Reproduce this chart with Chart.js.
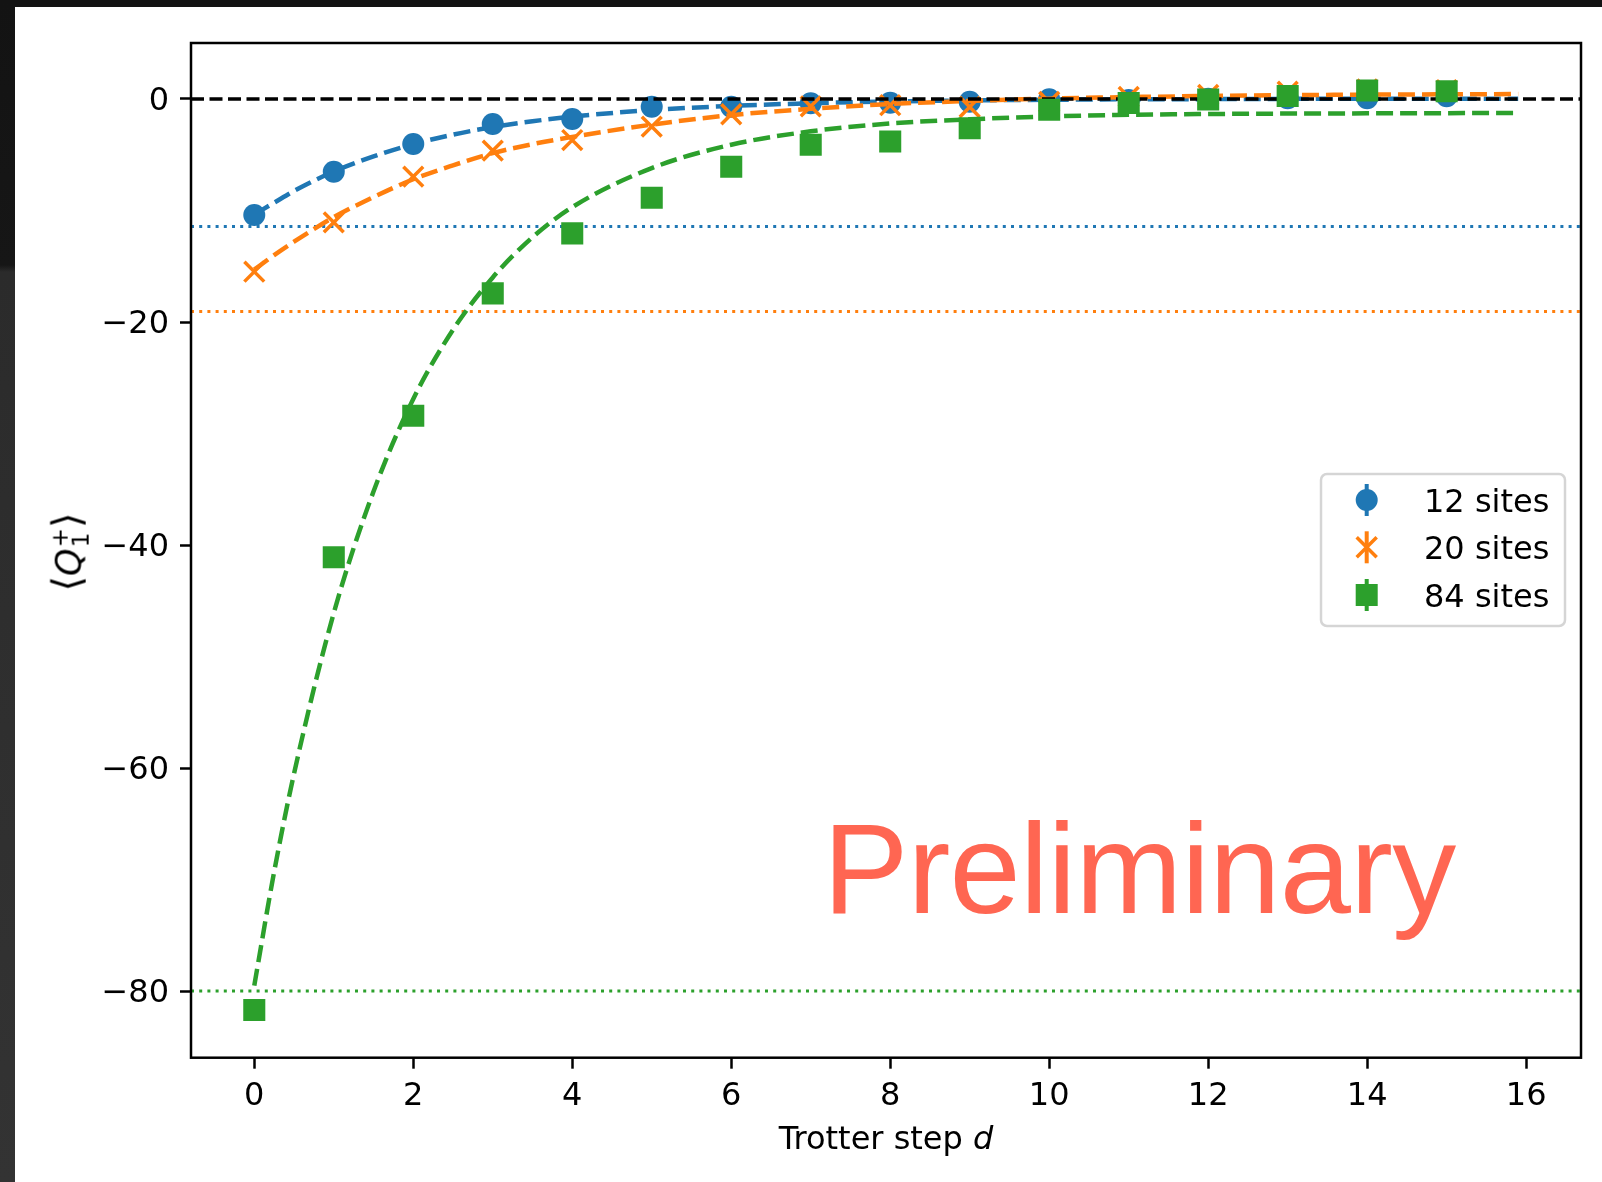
<!DOCTYPE html>
<html><head><meta charset="utf-8">
<script src="https://cdn.jsdelivr.net/npm/chart.js@4.4.1/dist/chart.umd.min.js"></script>
<style>
html,body{margin:0;padding:0;background:#fff;width:1602px;height:1182px;overflow:hidden;}
#wrap{position:relative;width:1602px;height:1182px;background:#fff;}
#c{position:absolute;left:0;top:0;}
.topbar{position:absolute;left:0;top:0;width:1602px;height:7px;background:#131313;}
.leftbar{position:absolute;left:0;top:0;width:15px;height:1182px;background:linear-gradient(#131313 0px,#161616 265px,#2b2b2b 272px,#333 1182px);}
.xlabel{position:absolute;left:886px;top:1122px;transform:translateX(-50%);font:32px/1 "DejaVu Sans";color:#000;white-space:nowrap;}
.ylabel{position:absolute;left:69px;top:552px;transform:translate(-50%,-50%) rotate(-90deg);font:35px/1 "DejaVu Sans";color:#000;white-space:nowrap;}
.ylabel .br{font-size:40px;}
.ylabel .ss{display:inline-flex;flex-direction:column;font-size:23px;line-height:0.9;vertical-align:middle;margin-left:1px;}
.prelim{position:absolute;left:823px;top:805px;font:128px/128px "Liberation Sans";letter-spacing:-0.7px;color:#ff6652;white-space:nowrap;}
</style></head>
<body><div id="wrap">
<canvas id="c" width="1602" height="1182"></canvas>
<div class="topbar"></div><div class="leftbar"></div>
<div class="xlabel">Trotter step <i>d</i></div>
<div class="ylabel"><span class="br">⟨</span><i>Q</i><span class="ss"><span>+</span><span>1</span></span><span class="br">⟩</span></div>
<div class="prelim">Preliminary</div>
</div>
<script>
// ---- data ----
const steps = [0,1,2,3,4,5,6,7,8,9,10,11,12,13,14,15];
const sites12 = [-10.4,-6.52,-4.04,-2.24,-1.79,-0.69,-0.69,-0.39,-0.33,-0.25,-0.03,-0.09,0.03,0.06,0.06,0.24];
const sites20 = [-15.49,-11.06,-6.97,-4.63,-3.68,-2.48,-1.37,-0.66,-0.56,-0.72,-0.27,0.18,0.36,0.65,0.85,0.8];
const sites84 = [-81.7,-41.1,-28.4,-17.43,-12.05,-8.85,-6.07,-4.1,-3.81,-2.63,-0.96,-0.36,-0.04,0.27,0.76,0.70];
const fitX   = [0,0.25,0.5,1,1.5,2,2.5,3,3.5,4,5,6,7,8,9,10,11,12,13,14,15,15.9];
const fit12  = [-10.35,-9.3,-8.25,-6.5,-5.15,-4.05,-3.2,-2.52,-2.0,-1.58,-0.99,-0.62,-0.38,-0.22,-0.13,-0.07,-0.03,-0.01,0.01,0.02,0.03,0.03];
const fit20  = [-15.3,-14.0,-12.8,-10.6,-8.8,-7.2,-5.95,-4.85,-4.05,-3.4,-2.3,-1.45,-0.88,-0.45,-0.18,0.03,0.17,0.27,0.34,0.39,0.42,0.44];
const fit84  = [-79.5,-69.3,-60.5,-46.1,-35.2,-26.9,-20.7,-16.0,-12.4,-9.7,-6.2,-4.1,-2.9,-2.2,-1.82,-1.57,-1.42,-1.35,-1.31,-1.29,-1.27,-1.26];
const limits = [-11.43,-19.05,-80.0];   // dotted reference levels (12, 20, 84 sites)
const zeroLevel = 0;
const seriesNames = ['12 sites','20 sites','84 sites'];
const xTickVals = [0,2,4,6,8,10,12,14,16];
const yTickVals = [-80,-60,-40,-20,0];

const colors = ['#1f77b4','#ff7f0e','#2ca02c'];
const pts = (xs, ys) => xs.map((x,i)=>({x:x, y:ys[i]}));

const fitStyle = (c, ord) => ({type:'line', showLine:true, borderColor:c, borderWidth:4.5, borderDash:[17,7],
  pointRadius:0, pointHoverRadius:0, fill:false, cubicInterpolationMode:'monotone', order:ord});

const datasets = [
  Object.assign({label:'fit12', data:pts(fitX,fit12)}, fitStyle(colors[0],7)),
  {label:seriesNames[0], data:pts(steps,sites12), showLine:false, pointStyle:'circle', pointRadius:11, pointHoverRadius:11,
   backgroundColor:colors[0], borderColor:colors[0], pointBorderWidth:0, order:6},
  Object.assign({label:'fit20', data:pts(fitX,fit20)}, fitStyle(colors[1],5)),
  {label:seriesNames[1], data:pts(steps,sites20), showLine:false, pointStyle:'crossRot', pointRadius:14, pointHoverRadius:14,
   backgroundColor:colors[1], borderColor:colors[1], pointBorderWidth:3.5, order:4},
  Object.assign({label:'fit84', data:pts(fitX,fit84)}, fitStyle(colors[2],3)),
  {label:seriesNames[2], data:pts(steps,sites84), showLine:false, pointStyle:'rect', pointRadius:15.6, pointHoverRadius:15.6,
   backgroundColor:colors[2], borderColor:colors[2], pointBorderWidth:0, order:2}
];

function hline(chart, v, color, lw, dash){
  const ctx = chart.ctx, a = chart.chartArea, y = chart.scales.y.getPixelForValue(v);
  ctx.save(); ctx.beginPath(); ctx.strokeStyle=color; ctx.lineWidth=lw; ctx.setLineDash(dash);
  ctx.moveTo(a.left, y); ctx.lineTo(a.right, y); ctx.stroke(); ctx.restore();
}

const refPlugin = {
  id:'refs',
  beforeDatasetsDraw(chart){
    limits.forEach((v,i)=>hline(chart, v, colors[i], 3, [3,5.2]));
  },
  afterDatasetDraw(chart, args){
    if (chart.data.datasets[args.index].label === seriesNames[1]) hline(chart, zeroLevel, '#000', 3.5, [13,5.5]);
  }
};

const framePlugin = {
  id:'frame',
  afterDatasetsDraw(chart){
    const ctx=chart.ctx, a=chart.chartArea;
    ctx.save(); ctx.strokeStyle='#000'; ctx.lineWidth=2.5; ctx.setLineDash([]);
    ctx.strokeRect(a.left, a.top, a.right-a.left, a.bottom-a.top); ctx.restore();
  }
};

const legendPlugin = {
  id:'customLegend',
  afterDraw(chart){
    const ctx = chart.ctx;
    const bx=1321, by=474, bw=244, bh=152, r=6;
    ctx.save();
    ctx.beginPath();
    ctx.moveTo(bx+r,by); ctx.lineTo(bx+bw-r,by); ctx.arcTo(bx+bw,by,bx+bw,by+r,r);
    ctx.lineTo(bx+bw,by+bh-r); ctx.arcTo(bx+bw,by+bh,bx+bw-r,by+bh,r);
    ctx.lineTo(bx+r,by+bh); ctx.arcTo(bx,by+bh,bx,by+bh-r,r);
    ctx.lineTo(bx,by+r); ctx.arcTo(bx,by,bx+r,by,r); ctx.closePath();
    ctx.fillStyle='rgba(255,255,255,0.8)'; ctx.fill();
    ctx.strokeStyle='#d5d5d5'; ctx.lineWidth=2.5; ctx.stroke();
    const mx=1366.7, rows=[500,547.3,595];
    rows.forEach((cy,i)=>{
      const c = colors[i];
      ctx.strokeStyle=c; ctx.fillStyle=c; ctx.setLineDash([]);
      ctx.lineWidth=4; ctx.beginPath(); ctx.moveTo(mx, cy-16); ctx.lineTo(mx, cy+16); ctx.stroke();
      if(i===0){ ctx.beginPath(); ctx.arc(mx,cy,11,0,Math.PI*2); ctx.fill(); }
      else if(i===1){ ctx.lineWidth=3.5; ctx.beginPath(); ctx.moveTo(mx-10,cy-10); ctx.lineTo(mx+10,cy+10);
        ctx.moveTo(mx+10,cy-10); ctx.lineTo(mx-10,cy+10); ctx.stroke(); }
      else { ctx.fillRect(mx-11, cy-11, 22, 22); }
      ctx.fillStyle='#000'; ctx.font='32px "DejaVu Sans"'; ctx.textBaseline='alphabetic'; ctx.textAlign='left';
      ctx.fillText(seriesNames[i], 1424, cy+11.7);
    });
    ctx.restore();
  }
};

const tickFont = {family:'DejaVu Sans', size:32};
const minusFmt = v => (v<0 ? '\u2212'+Math.abs(v) : String(v));

new Chart(document.getElementById('c'), {
  type:'scatter',
  data:{datasets},
  options:{
    responsive:false, animation:false, devicePixelRatio:1,
    layout:{padding:{top:43, right:21, left:0, bottom:0}},
    plugins:{legend:{display:false}, tooltip:{enabled:false}},
    scales:{
      x:{type:'linear', min:-0.796, max:16.69,
        afterBuildTicks:s=>{s.ticks = xTickVals.map(v=>({value:v}));},
        afterFit:s=>{s.height=124.3;},
        ticks:{font:tickFont, color:'#000', padding:9, maxRotation:0, autoSkip:false, callback:minusFmt},
        grid:{drawOnChartArea:false, drawTicks:true, tickLength:11, tickWidth:2.5, tickColor:'#000'},
        border:{display:false}},
      y:{type:'linear', min:-85.97, max:5.02,
        afterBuildTicks:s=>{s.ticks = yTickVals.map(v=>({value:v}));},
        afterFit:s=>{s.width=191;},
        ticks:{font:tickFont, color:'#000', padding:11, labelOffset:3, autoSkip:false, callback:minusFmt},
        grid:{drawOnChartArea:false, drawTicks:true, tickLength:11, tickWidth:2.5, tickColor:'#000'},
        border:{display:false}}
    }
  },
  plugins:[refPlugin, framePlugin, legendPlugin]
});
</script>
</body></html>
